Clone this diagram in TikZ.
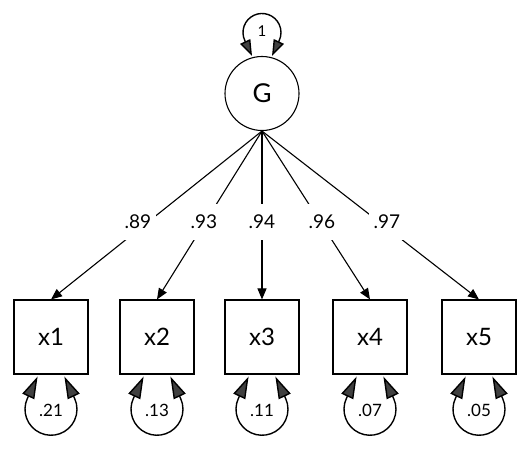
\documentclass[tikz,border=0pt]{standalone}
\usepackage{fontspec}
\setmainfont{Lato}
\usetikzlibrary{arrows.meta,calc}
\begin{document}
\begin{tikzpicture}[x=1pt,y=1pt,
  obs/.style={draw, line width=1.1pt, minimum size=74pt, inner sep=0pt, font=\fontsize{24}{28}\selectfont},
  lat/.style={draw, circle, line width=1.1pt, minimum size=74pt, inner sep=0pt, font=\fontsize{26}{30}\selectfont},
  load/.style={line width=1.1pt, -{Triangle[length=11pt,width=9pt]}},
  lab/.style={fill=white, inner xsep=5pt, minimum height=36pt, font=\fontsize{19}{22}\selectfont},
  resid/.style={line width=1.4pt, {Triangle[length=22pt,width=13pt,fill=black!75]}-{Triangle[length=22pt,width=13pt,fill=black!75]}},
  gresid/.style={line width=1.4pt, {Triangle[length=16pt,width=11pt,fill=black!75]}-{Triangle[length=16pt,width=11pt,fill=black!75]}},
  rlab/.style={font=\fontsize{17}{20}\selectfont, inner sep=0pt},
  glab/.style={font=\fontsize{15}{18}\selectfont, inner sep=0pt}
]
\useasboundingbox (0,0) rectangle (529,449);
\node[lat] (G) at (262,355.5) {G};
\node[obs] (x1) at (51,112) {x1};
\node[obs] (x2) at (157,112) {x2};
\node[obs] (x3) at (262,112) {x3};
\node[obs] (x4) at (370,112) {x4};
\node[obs] (x5) at (479,112) {x5};

% loadings
\draw[load] (G.south) -- (x1.north);
\draw[load] (G.south) -- (x2.north);
\draw[load] (G.south) -- (x3.north);
\draw[load] (G.south) -- (x4.north);
\draw[load] (G.south) -- (x5.north);
\node[lab] (l1) at (138,227) {.89};
\node[lab] (l2) at (204,227) {.93};
\node[lab] (l3) at (262,227) {.94};
\node[lab] (l4) at (322,227) {.96};
\node[lab] (l5) at (387,227) {.97};

% G variance
\coordinate (cG) at ($(G.center)+(0,61)$);
\draw[gresid] ($(cG)+(-10,-23.4)$) -- ($(cG)+(205:19)$) arc[start angle=205,end angle=-25,radius=19] -- ($(cG)+(10,-23.4)$);
\node[glab] (vG) at ($(cG)+(0,1)$) {1};

% residuals
\foreach \b/\v in {x1/.21, x2/.13, x3/.11, x4/.07, x5/.05} {
  \coordinate (c\b) at ($(\b.south)+(0,-34.7)$);
  \draw[resid] ($(c\b)+(-13.4,32.7)$) -- ($(c\b)+(155:26)$) arc[start angle=155,end angle=385,radius=26] -- ($(c\b)+(13.4,32.7)$);
  \node[rlab] (v\b) at ($(c\b)+(0,-1)$) {\v};
}
\end{tikzpicture}
\end{document}
